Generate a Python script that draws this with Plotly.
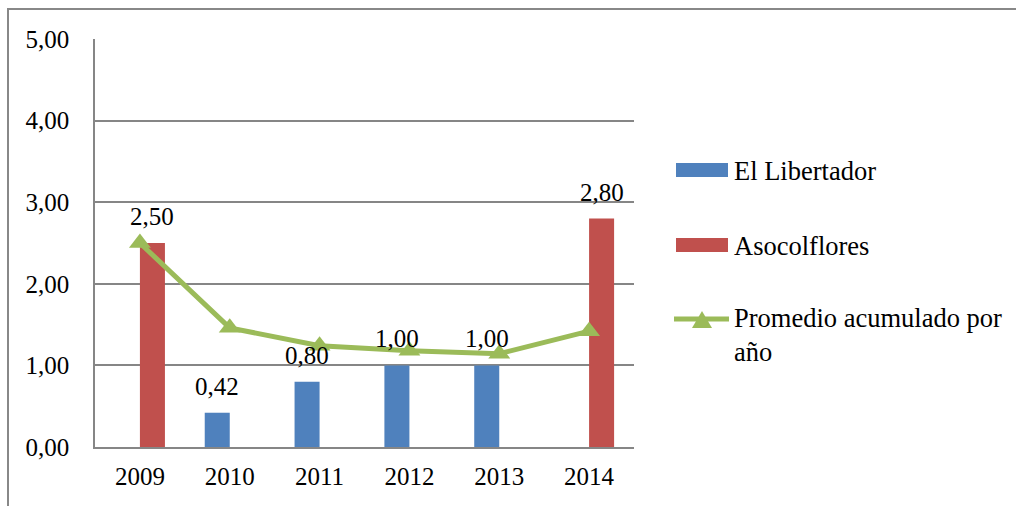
import plotly.graph_objects as go

years = [2009, 2010, 2011, 2012, 2013, 2014]
year_labels = ["2009", "2010", "2011", "2012", "2013", "2014"]
el_libertador = [None, 0.42, 0.80, 1.00, 1.00, None]
asocolflores = [2.50, None, None, None, None, 2.80]
promedio = [2.50, 1.46, 1.24, 1.18, 1.144, 1.42]
y_ticks = [0, 1, 2, 3, 4, 5]

BLUE = "#4F81BD"
RED = "#C0504D"
GREEN = "#9BBB59"
GRID = "#868686"
FONT = "Liberation Serif, Times New Roman, DejaVu Serif, serif"
FS = 25
FS_LEG = 26.5

# plot-area pixel geometry
W, H = 1016, 506
L, R, T, B = 95, 634, 39, 447


def px(x):
    return (x - L) / (R - L)


def py(y):
    return (B - y) / (B - T)


fig = go.Figure()
fig.add_trace(go.Bar(x=years, y=el_libertador, name="El Libertador",
                     marker=dict(color=BLUE, line=dict(width=0))))
fig.add_trace(go.Bar(x=years, y=asocolflores, name="Asocolflores",
                     marker=dict(color=RED, line=dict(width=0))))
fig.add_trace(go.Scatter(x=years, y=promedio, name="Promedio acumulado por año",
                         mode="lines+markers",
                         line=dict(color=GREEN, width=5),
                         marker=dict(symbol="triangle-up", size=19, color=GREEN)))

annotations = []
for yr, v in zip(years, el_libertador):
    if v is not None:
        annotations.append(dict(x=yr, y=v, text=f"{v:.2f}".replace(".", ","),
                                xref="x", yref="y", showarrow=False,
                                yanchor="bottom", xshift=-12.5, yshift=11,
                                font=dict(family=FONT, size=FS, color="black")))
for yr, v in zip(years, asocolflores):
    if v is not None:
        annotations.append(dict(x=yr, y=v, text=f"{v:.2f}".replace(".", ","),
                                xref="x", yref="y", showarrow=False,
                                yanchor="bottom", xshift=12.5, yshift=11,
                                font=dict(family=FONT, size=FS, color="black")))

# manual legend
shapes = [
    dict(type="rect", xref="paper", yref="paper", x0=px(8), x1=px(1100), y0=py(9), y1=py(600),
         line=dict(color="#888888", width=2), fillcolor="rgba(0,0,0,0)", layer="below"),
    dict(type="rect", xref="paper", yref="paper", x0=px(676), x1=px(728), y0=py(163), y1=py(177),
         line=dict(width=0), fillcolor=BLUE),
    dict(type="rect", xref="paper", yref="paper", x0=px(676), x1=px(728), y0=py(238), y1=py(252),
         line=dict(width=0), fillcolor=RED),
    dict(type="line", xref="paper", yref="paper", x0=px(674), x1=px(729), y0=py(319), y1=py(319),
         line=dict(color=GREEN, width=5)),
    dict(type="path", xref="paper", yref="paper",
         path=f"M {px(692)} {py(328)} L {px(712)} {py(328)} L {px(702)} {py(311)} Z",
         line=dict(width=0), fillcolor=GREEN),
]
for text, yc in [("El Libertador", 171), ("Asocolflores", 246)]:
    annotations.append(dict(x=px(732), y=py(yc), xref="paper", yref="paper", text=text,
                            showarrow=False, xanchor="left", yanchor="middle", align="left",
                            font=dict(family=FONT, size=FS_LEG, color="black")))
annotations.append(dict(x=px(732), y=py(301), xref="paper", yref="paper",
                        text="Promedio acumulado por<br>año",
                        showarrow=False, xanchor="left", yanchor="top", align="left",
                        font=dict(family=FONT, size=FS_LEG, color="black")))

fig.update_layout(
    width=W, height=H,
    margin=dict(l=L, r=W - R, t=T, b=H - B, pad=0),
    paper_bgcolor="white", plot_bgcolor="white",
    barmode="group", bargap=0.443, bargroupgap=0,
    showlegend=False,
    separators=",.",
    font=dict(family=FONT, size=FS, color="black"),
    annotations=annotations,
    shapes=shapes,
)
fig.update_xaxes(type="linear", range=[2008.5, 2014.5], tickvals=years, ticktext=year_labels,
                 showgrid=False, showline=True, linecolor=GRID, linewidth=1.5, zeroline=False,
                 ticks="", ticklabelstandoff=6, tickfont=dict(family=FONT, size=FS, color="black"))
fig.update_yaxes(range=[0, 5], tickvals=y_ticks, tickformat=".2f", showgrid=True, gridcolor=GRID,
                 gridwidth=1.5, showline=True, linecolor=GRID, linewidth=1.5, zeroline=False,
                 ticks="", ticklabelstandoff=19, tickfont=dict(family=FONT, size=FS, color="black"))

fig.write_html("out.html", config={"displayModeBar": False},
               post_script="document.body.style.margin='0';")
